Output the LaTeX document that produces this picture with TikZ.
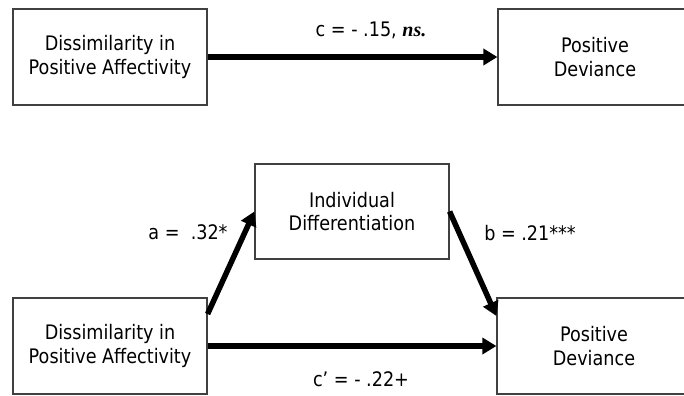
\documentclass[tikz,border=0pt]{standalone}
\usepackage{fontspec}
\setmainfont{DejaVu Sans}[FakeStretch=0.88]
\newfontfamily\nsfont{Liberation Serif}
\usetikzlibrary{arrows.meta,positioning}
\begin{document}
\begin{tikzpicture}[x=1bp, y=-1bp,
  box/.style={draw=black!75, line width=1.2bp, minimum width=194bp, minimum height=96bp, align=center, inner sep=0pt, font=\fontsize{20bp}{23.5bp}\selectfont},
  lbl/.style={inner sep=0pt, font=\fontsize{20bp}{23.5bp}\selectfont},
  effect/.style={line width=5.5bp, -{Triangle[length=14bp, width=16bp]}}]
\useasboundingbox (0,0) rectangle (684,395);
\node[box] (dpa) at (110,57) {Dissimilarity in\\Positive Affectivity};
\node[box] (dev) at (595,57) {Positive\\Deviance};
\node[box] (dpa2) at (110,346) {Dissimilarity in\\Positive Affectivity};
\node[box] (dev2) at (594,346) {Positive\\Deviance};
\node[box, minimum height=95bp] (diff) at (352,211.5) {Individual\\Differentiation};
\draw[effect] (dpa) -- (dev);
\draw[effect] ([yshift=32bp]dpa2.east) -- (diff.west);
\draw[effect] (diff.east) -- ([yshift=30bp]dev2.west);
\draw[effect] (dpa2) -- (dev2);
\node[lbl] (c) at (371,30) {c = - .15, {\nsfont\bfseries\itshape ns.}};
\node[lbl] (a) at (188,232) {a =\ \ .32*};
\node[lbl] (b) at (530,233) {b = .21***};
\node[lbl] (cp) at (361,379) {c’ = - .22+};
\end{tikzpicture}
\end{document}
